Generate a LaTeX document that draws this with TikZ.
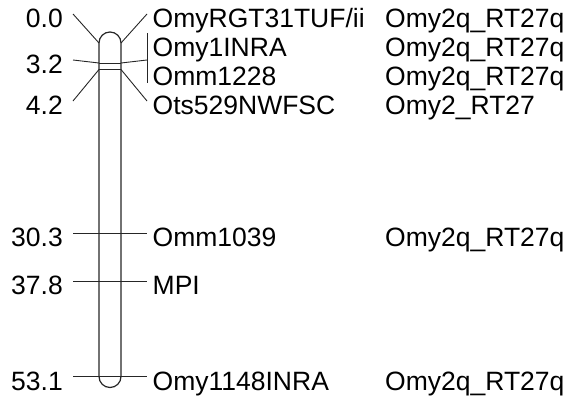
\documentclass[tikz,border=0pt]{standalone}
\usepackage{fontspec}
\setmainfont{Liberation Sans}
\usepackage{tikz}
\usetikzlibrary{positioning,calc}
\definecolor{ChromLine}{HTML}{262626}

\tikzset{
  txt/.style={font=\fontsize{26.5}{31}\selectfont,inner sep=0pt},
  cmlbl/.style={txt,anchor=base east},
  mklbl/.style={txt,anchor=base west},
  conn/.style={ChromLine,line width=0.9pt},
  chrom/.style={ChromLine,line width=1.2pt}
}

\begin{document}
\begin{tikzpicture}[x=1pt,y=-1pt]
  \useasboundingbox (0,0) rectangle (575,399);
  % chromosome body
  \draw[chrom] (99,376.5) -- (99,43) arc[start angle=180,end angle=360,radius=11]
       -- (121,376.5) arc[start angle=0,end angle=180,radius=11];
  % clustered loci near the top
  \coordinate (cL0) at (99,43);   \coordinate (cR0) at (121,43);
  \coordinate (cL1) at (99,63);   \coordinate (cR1) at (121,63);
  \coordinate (cL2) at (99,69.5); \coordinate (cR2) at (121,69.5);
  \coordinate (a0) at (73,14);  \coordinate (b0) at (147,14);
  \coordinate (a1) at (73,60);  \coordinate (b1) at (147,60);
  \coordinate (a2) at (73,101); \coordinate (b2) at (147,101);
  \coordinate (brT) at (147,33); \coordinate (brB) at (147,83);
  \draw[conn] (cL1) -- (cR1);
  \draw[conn] (cL2) -- (cR2);
  \draw[conn] (a0) -- (cL0); \draw[conn] (cR0) -- (b0);
  \draw[conn] (a1) -- (cL1); \draw[conn] (cR1) -- (b1);
  \draw[conn] (a2) -- (cL2); \draw[conn] (cR2) -- (b2);
  \draw[conn] (brT) -- (brB);
  \node[cmlbl] (cm0) at ([shift={(-10,13.5)}]a0) {0.0};
  \node[cmlbl] (cm1) at ([shift={(-10,13.5)}]a1) {3.2};
  \node[cmlbl] (cm2) at ([shift={(-10,13.5)}]a2) {4.2};
  \foreach \i/\y/\mk/\grp in {1/14/OmyRGT31TUF\slash ii/Omy2q\_RT27q,
                              2/43/Omy1INRA/Omy2q\_RT27q,
                              3/72/Omm1228/Omy2q\_RT27q,
                              4/101/Ots529NWFSC/Omy2\_RT27} {
    \node[mklbl] (mk\i) at (152.5,\y+13.5) {\mk};
    \node[mklbl] (grp\i) at (385,\y+13.5) {\grp};
  }
  % single loci further down
  \foreach \i/\cm/\y/\mk/\grp in {5/30.3/233/Omm1039/Omy2q\_RT27q,
                                  6/37.8/281/MPI/,
                                  7/53.1/376.5/Omy1148INRA/Omy2q\_RT27q} {
    \coordinate (a\i) at (73,\y);
    \coordinate (b\i) at (147,\y);
    \draw[conn] (a\i) -- (b\i);
    \node[cmlbl] (cm\i) at ([shift={(-10,13.5)}]a\i) {\cm};
    \node[mklbl] (mk\i) at ([shift={(5.5,13.5)}]b\i) {\mk};
    \node[mklbl] (grp\i) at (385,\y+13.5) {\grp};
  }
\end{tikzpicture}
\end{document}
